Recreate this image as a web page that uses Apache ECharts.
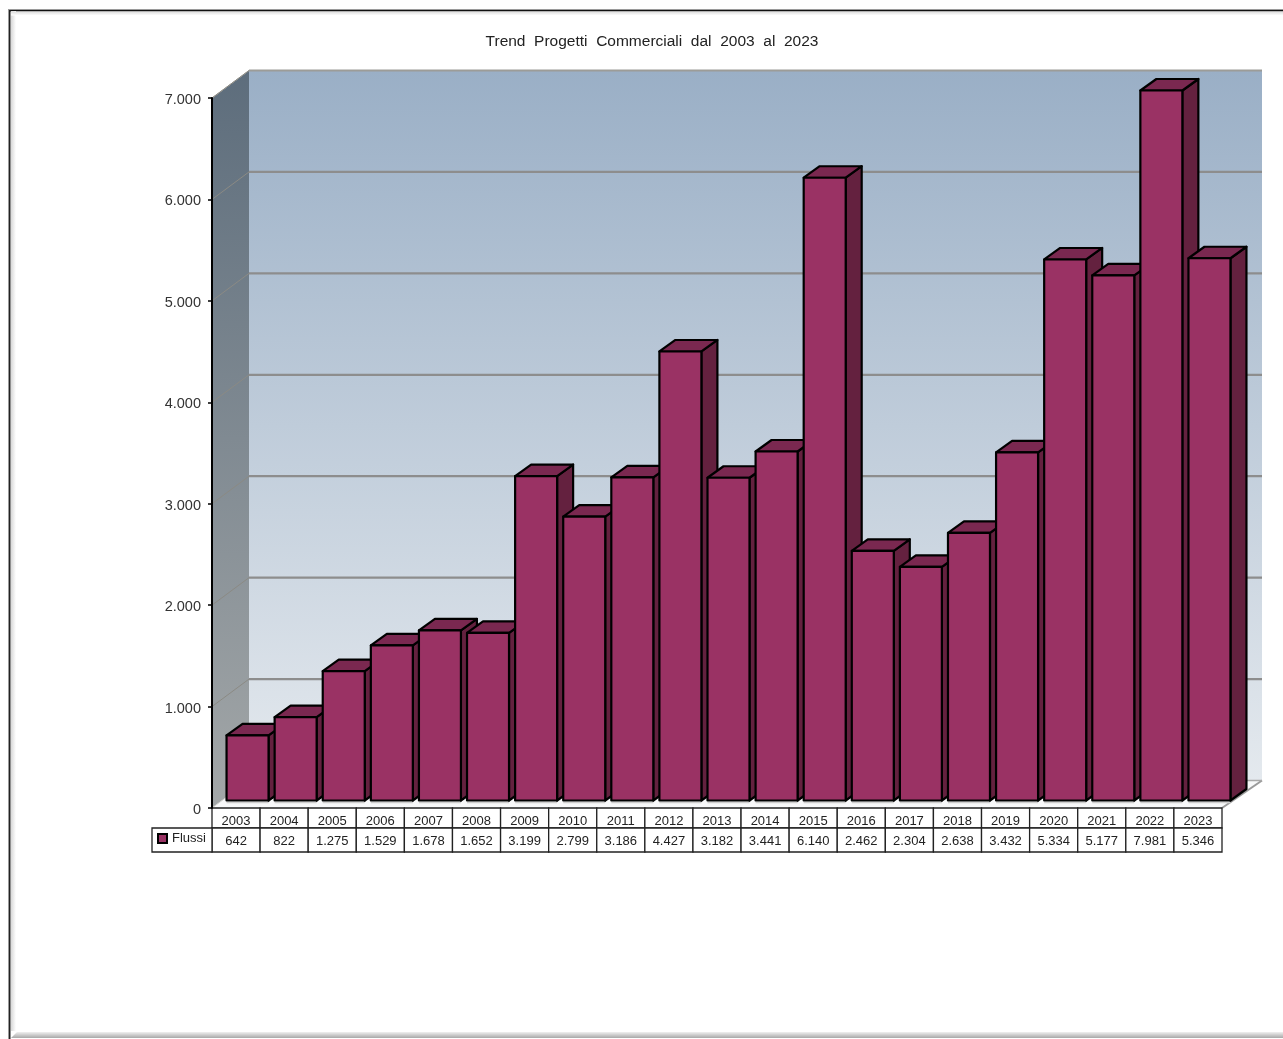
<!DOCTYPE html>
<html><head><meta charset="utf-8">
<style>html,body{margin:0;padding:0;background:#fff}#c{width:1283px;height:1039px;filter:blur(0.35px)}</style>
<script src="https://cdn.jsdelivr.net/npm/echarts@6/dist/echarts.min.js"></script>
</head><body><div id="c"></div>
<script>
const years = ['2003','2004','2005','2006','2007','2008','2009','2010','2011','2012','2013','2014','2015','2016','2017','2018','2019','2020','2021','2022','2023'];
const flussi = [642,822,1275,1529,1678,1652,3199,2799,3186,4427,3182,3441,6140,2462,2304,2638,3432,5334,5177,7981,5346];
const yTicks = [0,1000,2000,3000,4000,5000,6000,7000];
const titleText = 'Trend  Progetti  Commerciali  dal  2003  al  2023';
const seriesName = 'Flussi';

const yMax = 7000, FONT = '"Liberation Sans", Arial, sans-serif';
const WALL = [37,-27.5], BAR_OFF = [11.5,-7.5], BAR_D = [16,-11.5];
const fmt = v => String(v).replace(/\B(?=(\d{3})+$)/g,'.');
const chart = echarts.init(document.getElementById('c'),null,{renderer:'canvas'});

function poly(points, style){ return {type:'polygon',shape:{points},style}; }
function line(x1,y1,x2,y2,stroke,w){ return {type:'line',shape:{x1,y1,x2,y2},style:{stroke,lineWidth:w,fill:null}}; }

function renderWalls(p,api){
  const n = years.length;
  const bl = api.coord([0,0]), w = api.size([1,0])[0];
  const x0 = bl[0]-w/2, x1 = x0+n*w, y0 = bl[1], yT = api.coord([0,yMax])[1];
  const bx0=x0+WALL[0], bx1=x1+WALL[0]+3, by0=y0+WALL[1], byT=yT+WALL[1];
  return {type:'group',children:[
    poly([[x0,y0],[x1,y0],[bx1,by0],[bx0,by0]],{fill:'#f7f8f9'}),
    {type:'rect',shape:{x:bx0,y:byT,width:bx1-bx0,height:by0-byT},style:{fill:{type:'linear',x:0,y:0,x2:0,y2:1,colorStops:[{offset:0,color:'#9aafc6'},{offset:1,color:'#e4e9ee'}]}}},
    poly([[x0,yT],[bx0,byT],[bx0,by0],[x0,y0]],{fill:{type:'linear',x:0,y:0,x2:0,y2:1,colorStops:[{offset:0,color:'#5d6d7c'},{offset:1,color:'#a3a7a8'}]}}),
    line(x0,yT,bx0,byT,'#b0aea8',1),
    line(x0,y0,bx0,by0,'#d8d8d4',1),
    line(x1,y0,bx1,by0,'#9a9a9a',2),
    line(bx0,by0,bx1,by0,'#a8a8a8',1.5)
  ]};
}
function renderGrid(p,api){
  const c = api.coord([0,api.value(1)]), w = api.size([1,0])[0];
  const x0=c[0]-w/2, y=c[1], bx0=x0+WALL[0], bx1=x0+years.length*w+WALL[0]+3, by=y+WALL[1];
  if(api.value(1)===0) return {type:'group',children:[]};
  return {type:'group',children:[
    line(x0,y,bx0,by,'#8b8a84',1),
    line(bx0,by,bx1,by,api.value(1)===yMax?'#9c9c98':'#8d8d8d',2.2)
  ]};
}
function renderBar(p,api){
  const v = Math.min(api.value(1),yMax);
  const c = api.coord([api.value(0),v]), b = api.coord([api.value(0),0]);
  const cx = c[0]+BAR_OFF[0], hw=21;
  const l=cx-hw, r=cx+hw, t=c[1]+BAR_OFF[1], bot=b[1]+BAR_OFF[1], dx=BAR_D[0], dy=BAR_D[1];
  const st = f => ({fill:f,stroke:'#000',lineWidth:2.2,lineJoin:'round'});
  return {type:'group',children:[
    line(l,bot+2,r,bot+2,'#cfcfcf',1.5),
    poly([[r,t],[r+dx,t+dy],[r+dx,bot+dy],[r,bot]],st('#64213f')),
    poly([[l,t],[l+dx,t+dy],[r+dx,t+dy],[r,t]],st('#7a2850')),
    {type:'rect',shape:{x:l,y:t,width:r-l,height:bot-t},style:st('#9a3264')}
  ]};
}
function renderTable(p,api){
  const c = api.coord([api.value(0),0]), w = api.size([1,0])[0];
  const x=c[0]-w/2, y=c[1], s={fill:'#fff',stroke:'#222',lineWidth:1.3};
  const ch=[
    {type:'rect',shape:{x,y,width:w,height:20},style:s},
    {type:'rect',shape:{x,y:y+20,width:w,height:24},style:s}
  ];
  if(api.value(0)===0) ch.push({type:'rect',shape:{x:x-60,y:y+20,width:60,height:24},style:s});
  return {type:'group',children:ch};
}
function frame(){
  return [
    {type:'rect',shape:{x:8,y:9,width:1275,height:1},style:{fill:'#9a9a9a'},silent:true},
    {type:'rect',shape:{x:8,y:10,width:1275,height:1.5},style:{fill:'#111'},silent:true},
    {type:'rect',shape:{x:8,y:9,width:1,height:1030},style:{fill:'#9a9a9a'},silent:true},
    {type:'rect',shape:{x:9,y:10,width:1.5,height:1029},style:{fill:'#222'},silent:true},
    {type:'rect',shape:{x:11,y:11,width:5,height:1020},style:{fill:{type:'linear',x:0,y:0,x2:1,y2:0,colorStops:[{offset:0,color:'#d8d8d8'},{offset:1,color:'#ffffff'}]}},silent:true},
    {type:'rect',shape:{x:11,y:11.5,width:1272,height:4},style:{fill:{type:'linear',x:0,y:0,x2:0,y2:1,colorStops:[{offset:0,color:'#dcdcdc'},{offset:1,color:'#ffffff'}]}},silent:true},
    {type:'polygon',shape:{points:[[11,1038],[17,1032],[1283,1032],[1283,1038]]},style:{fill:{type:'linear',x:0,y:0,x2:0,y2:1,colorStops:[{offset:0,color:'#f0f0f0'},{offset:1,color:'#a8a8a8'}]}},silent:true}
  ];
}

chart.setOption({
  animation:false,
  backgroundColor:'#fff',
  title:{text:titleText,left:647,top:29,textAlign:'center',textStyle:{fontFamily:FONT,fontSize:15.5,fontWeight:'normal',color:'#222'}},
  legend:{data:[seriesName],left:157,top:832,itemWidth:9,itemHeight:9,icon:'rect',itemGap:5,selectedMode:false,
    padding:0,textStyle:{fontFamily:FONT,fontSize:13,color:'#222',padding:[0,0,0,0]},
    itemStyle:{color:'#9a3264',borderColor:'#000',borderWidth:2}},
  grid:{left:212,top:98,width:1010,height:710,containLabel:false},
  xAxis:[
    {type:'category',data:years,position:'bottom',axisLine:{show:false},axisTick:{show:false},z:5,
     axisLabel:{interval:0,margin:7,color:'#222',fontFamily:FONT,fontSize:13}},
    {type:'category',data:flussi.map(fmt),position:'bottom',offset:20,axisLine:{show:false},axisTick:{show:false},z:5,
     axisLabel:{interval:0,margin:6.5,color:'#222',fontFamily:FONT,fontSize:13}}
  ],
  yAxis:{type:'value',min:0,max:yMax,interval:1000,splitLine:{show:false},z:5,
    axisLine:{show:true,lineStyle:{color:'#000',width:2}},
    axisTick:{show:true,length:4,lineStyle:{color:'#000',width:1.5}},
    axisLabel:{margin:11,color:'#333',fontFamily:FONT,fontSize:14.5,formatter:v=>'{t|'+fmt(v)+'}',
      rich:{t:{fontFamily:FONT,fontSize:14.5,color:'#333',padding:[4,0,0,0]}}}},
  graphic:frame(),
  series:[
    {type:'custom',name:'walls',silent:true,z:1,renderItem:renderWalls,data:[[0,0]],encode:{x:0,y:1}},
    {type:'custom',name:'grid',silent:true,z:2,renderItem:renderGrid,data:yTicks.map(t=>[0,t]),encode:{x:0,y:1}},
    {type:'custom',name:'table',silent:true,z:2,renderItem:renderTable,data:years.map((y,i)=>[i,0]),encode:{x:0,y:1}},
    {type:'custom',name:seriesName,silent:true,z:3,itemStyle:{color:'#9a3264'},renderItem:renderBar,data:flussi.map((v,i)=>[i,v]),encode:{x:0,y:1}}
  ]
});
</script></body></html>
